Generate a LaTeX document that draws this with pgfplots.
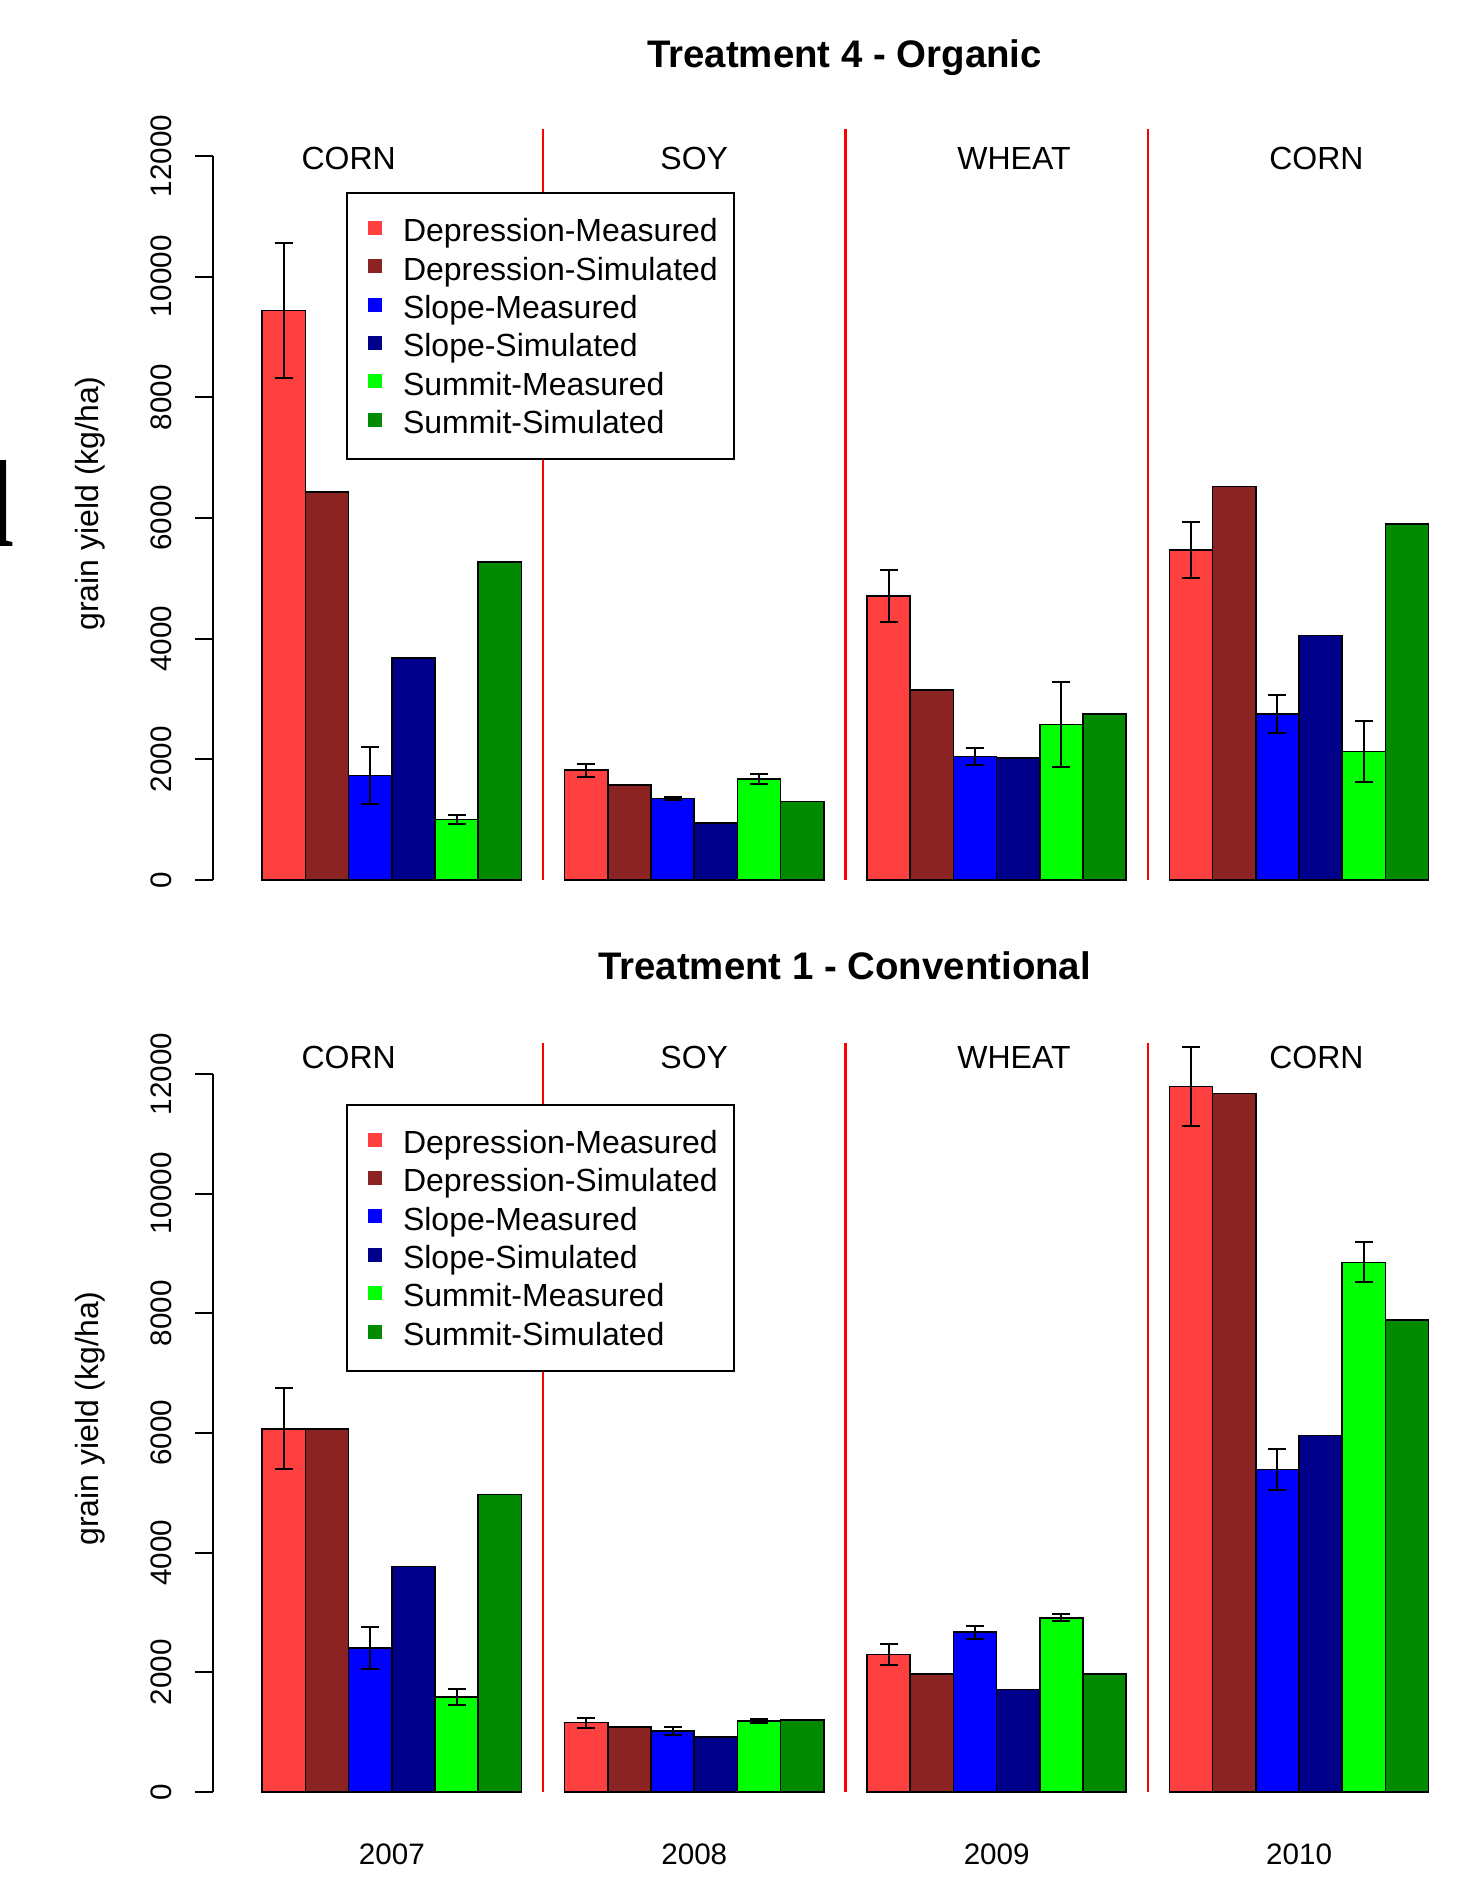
\documentclass[border=0pt]{standalone}
\usepackage{pgfplots}
\pgfplotsset{compat=1.18}
\usepackage{fontspec}
\setmainfont{Liberation Sans}
\newfontfamily\serifl{Liberation Serif}

\definecolor{cDM}{HTML}{FF4040}
\definecolor{cDS}{HTML}{8B2323}
\definecolor{cSM}{HTML}{0000FF}
\definecolor{cSS}{HTML}{00008B}
\definecolor{cUM}{HTML}{00FF00}
\definecolor{cUS}{HTML}{008B00}

\pgfplotsset{
 yieldaxis/.style={
  scale only axis, width=315.8pt,
  xmin=-0.14, xmax=29.1, ymin=0, ymax=12480,
  clip=false,
  axis x line*=bottom, axis y line*=left,
  x axis line style={draw=none}, y axis line style={draw=none},
  tick align=outside, major tick length=4.5pt,
  scaled y ticks=false,
  ytick={0,2000,4000,6000,8000,10000,12000},
  yticklabels={0,2000,4000,6000,8000,10000,12000},
  yticklabel style={xshift=-8.35pt, rotate=90, anchor=center, font=\fontsize{7.4}{9}\selectfont, inner sep=0pt},
  ytick style={black, line width=0.5pt},
  xtick style={draw=none},
  ylabel={grain yield (kg/ha)},
  every axis y label/.style={at={(rel axis cs:0,0.5)}, xshift=-30.75pt, rotate=90, anchor=center, font=\fontsize{8}{9.6}\selectfont},
  title style={at={(rel axis cs:0.5,1)}, anchor=center, font=\bfseries\fontsize{9.6}{11.5}\selectfont},
  legend style={anchor=north west, draw=black, line width=0.5pt, fill=white,
    font=\fontsize{8}{9.6}\selectfont, inner xsep=4pt, inner ysep=4.5pt, row sep=0pt,
    nodes={inner sep=0pt, text height=7.7pt, text depth=1.9pt}},
  legend cell align=left,
 },
 mybar/.style={ybar, bar width=1, bar shift=0pt, draw=black, line width=0.4pt,
   legend image code/.code={\path[draw=none,fill=none] (0pt,0pt) -- (10pt,0pt); \fill[#1,draw=none] (1.25pt,-1.2pt) rectangle (4.75pt,2.3pt);}},
 myerr/.style={error bars/.cd, y dir=both, y explicit,
   error bar style={black, line width=0.5pt},
   error mark options={rotate=90, mark size=2.25pt, black, line width=0.5pt}},
}

\begin{document}
\begin{tikzpicture}
\useasboundingbox (0,0) rectangle (369pt,469.25pt);
\node[anchor=base east, inner sep=0pt, font=\serifl\bfseries\fontsize{31}{31}\selectfont] at (3.9pt,332.5pt) {l};

% ---------------- Top: Treatment 4 - Organic
\begin{axis}[yieldaxis, at={(53.25pt,249.25pt)}, anchor=south west, height=188.25pt,
  title={Treatment 4 - Organic}, title style={yshift=11.35pt},
  xtick=\empty,
  legend style={at={(0.1053,0.9139)}}]
\draw[red, line width=0.6pt] (axis cs:7.5,0) -- (axis cs:7.5,12450);
\draw[red, line width=0.6pt] (axis cs:14.5,0) -- (axis cs:14.5,12450);
\draw[red, line width=0.6pt] (axis cs:21.5,0) -- (axis cs:21.5,12450);
\draw[black, line width=0.5pt] (axis cs:-0.14,0) -- (axis cs:-0.14,12000);

\addplot[mybar, fill=cDM, myerr] coordinates {(1.5,9440) +- (0,1125) (8.5,1820) +- (0,105) (15.5,4710) +- (0,430) (22.5,5470) +- (0,470)};
\addlegendentry{Depression-Measured}
\addplot[mybar, fill=cDS] coordinates {(2.5,6430) (9.5,1570) (16.5,3150) (23.5,6520)};
\addlegendentry{Depression-Simulated}
\addplot[mybar, fill=cSM, myerr] coordinates {(3.5,1730) +- (0,475) (10.5,1350) +- (0,25) (17.5,2050) +- (0,145) (24.5,2750) +- (0,320)};
\addlegendentry{Slope-Measured}
\addplot[mybar, fill=cSS] coordinates {(4.5,3680) (11.5,940) (18.5,2020) (25.5,4050)};
\addlegendentry{Slope-Simulated}
\addplot[mybar, fill=cUM, myerr] coordinates {(5.5,1000) +- (0,75) (12.5,1670) +- (0,85) (19.5,2580) +- (0,700) (26.5,2130) +- (0,500)};
\addlegendentry{Summit-Measured}
\addplot[mybar, fill=cUS] coordinates {(6.5,5270) (13.5,1300) (20.5,2750) (27.5,5900)};
\addlegendentry{Summit-Simulated}

\node[font=\fontsize{8}{9.6}\selectfont] at (axis cs:3,11950) {CORN};
\node[font=\fontsize{8}{9.6}\selectfont] at (axis cs:11,11950) {SOY};
\node[font=\fontsize{8}{9.6}\selectfont] at (axis cs:18.4,11950) {WHEAT};
\node[font=\fontsize{8}{9.6}\selectfont] at (axis cs:25.4,11950) {CORN};
\end{axis}

% ---------------- Bottom: Treatment 1 - Conventional
\begin{axis}[yieldaxis, at={(53.25pt,21.25pt)}, anchor=south west, height=186.7pt,
  title={Treatment 1 - Conventional}, title style={yshift=13.8pt},
  xtick={4,11,18,25}, xticklabels={2007,2008,2009,2010},
  xticklabel style={anchor=center, yshift=-11.2pt, font=\fontsize{7.4}{9}\selectfont, inner sep=0pt},
  legend style={at={(0.1053,0.9219)}}]
\draw[red, line width=0.6pt] (axis cs:7.5,0) -- (axis cs:7.5,12520);
\draw[red, line width=0.6pt] (axis cs:14.5,0) -- (axis cs:14.5,12520);
\draw[red, line width=0.6pt] (axis cs:21.5,0) -- (axis cs:21.5,12520);
\draw[black, line width=0.5pt] (axis cs:-0.14,0) -- (axis cs:-0.14,12000);

\addplot[mybar, fill=cDM, myerr] coordinates {(1.5,6070) +- (0,675) (8.5,1160) +- (0,85) (15.5,2300) +- (0,170) (22.5,11790) +- (0,665)};
\addlegendentry{Depression-Measured}
\addplot[mybar, fill=cDS] coordinates {(2.5,6070) (9.5,1090) (16.5,1970) (23.5,11670)};
\addlegendentry{Depression-Simulated}
\addplot[mybar, fill=cSM, myerr] coordinates {(3.5,2410) +- (0,355) (10.5,1020) +- (0,60) (17.5,2670) +- (0,110) (24.5,5390) +- (0,350)};
\addlegendentry{Slope-Measured}
\addplot[mybar, fill=cSS] coordinates {(4.5,3770) (11.5,920) (18.5,1710) (25.5,5960)};
\addlegendentry{Slope-Simulated}
\addplot[mybar, fill=cUM, myerr] coordinates {(5.5,1590) +- (0,130) (12.5,1190) +- (0,30) (19.5,2910) +- (0,60) (26.5,8850) +- (0,335)};
\addlegendentry{Summit-Measured}
\addplot[mybar, fill=cUS] coordinates {(6.5,4970) (13.5,1200) (20.5,1970) (27.5,7890)};
\addlegendentry{Summit-Simulated}

\node[font=\fontsize{8}{9.6}\selectfont] at (axis cs:3,12270) {CORN};
\node[font=\fontsize{8}{9.6}\selectfont] at (axis cs:11,12270) {SOY};
\node[font=\fontsize{8}{9.6}\selectfont] at (axis cs:18.4,12270) {WHEAT};
\node[font=\fontsize{8}{9.6}\selectfont] at (axis cs:25.4,12270) {CORN};
\end{axis}
\end{tikzpicture}
\end{document}
